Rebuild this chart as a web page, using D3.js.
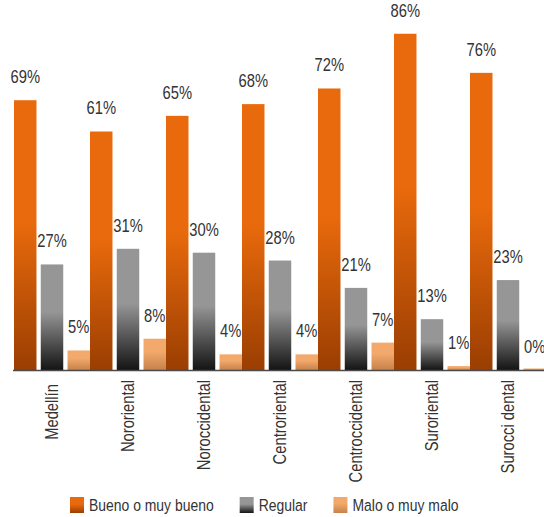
<!DOCTYPE html>
<html>
<head>
<meta charset="utf-8">
<script src="https://cdn.jsdelivr.net/npm/d3@7/dist/d3.min.js"></script>
<style>
  html, body { margin: 0; padding: 0; background: #fff; }
  svg { display: block; }
  text { font-family: "Liberation Sans", Arial, sans-serif; fill: #333; }
</style>
</head>
<body>
<svg id="chart" width="544" height="517"></svg>
<script>
// Zones of the city
const categories = ["Medellín ", "Nororiental", "Noroccidental", "Centroriental", "Centroccidental", "Suroriental", "Surocci dental"];

// Series (percent)
const seriesNames = ["Bueno o muy bueno", "Regular", "Malo o muy malo"];
const bueno   = [69, 61, 65, 68, 72, 86, 76];
const regular = [27, 31, 30, 28, 21, 13, 23];
const malo    = [5, 8, 4, 4, 7, 1, 0];

const seriesValues = [bueno, regular, malo];

// Fill gradients per series: [top colour, bottom colour, where darkening starts]
const seriesFills = [
  { id: "g-bueno",   top: "#E96A0C", bottom: "#9A3E02", start: 0.45 },
  { id: "g-regular", top: "#969696", bottom: "#141414", start: 0.45 },
  { id: "g-malo",    top: "#F3A96B", bottom: "#C5824C", start: 0.40 }
];

// Horizontal squeeze applied to text to get a condensed face
const NARROW = 0.82;

const svg = d3.select("#chart");
const defs = svg.append("defs");
seriesFills.forEach(f => {
  const g = defs.append("linearGradient")
    .attr("id", f.id)
    .attr("x1", 0).attr("y1", 0).attr("x2", 0).attr("y2", 1);
  g.append("stop").attr("offset", 0).attr("stop-color", f.top);
  g.append("stop").attr("offset", f.start).attr("stop-color", f.top);
  g.append("stop").attr("offset", 1).attr("stop-color", f.bottom);
});

const baseline = 370;
const y = d3.scaleLinear().domain([0, 100]).range([baseline, -21]);

const x0 = d3.scaleBand().domain(categories).range([14, 14 + 76 * categories.length]).paddingInner(0).paddingOuter(0);
const x1 = d3.scaleBand().domain(d3.range(seriesNames.length)).range([0, x0.bandwidth()]).paddingInner(0.16).paddingOuter(0);

// Bars and value labels
const groups = svg.append("g").selectAll("g")
  .data(categories)
  .join("g")
  .attr("transform", d => `translate(${x0(d)},0)`);

groups.each(function(cat, ci) {
  const g = d3.select(this);
  seriesValues.forEach((vals, si) => {
    const v = vals[ci];
    const top = y(v);
    const h = Math.max(baseline - top, 1.5);
    g.append("rect")
      .attr("x", x1(si))
      .attr("y", baseline - h)
      .attr("width", x1.bandwidth())
      .attr("height", h)
      .attr("fill", `url(#${seriesFills[si].id})`);
    g.append("text")
      .attr("transform", `translate(${x1(si) + x1.bandwidth() / 2},${top - 17}) scale(${NARROW},1)`)
      .attr("text-anchor", "middle")
      .style("font-size", "18px")
      .text(v + "%");
  });
});

// Baseline axis
svg.append("line")
  .attr("x1", 13).attr("x2", 544)
  .attr("y1", baseline + 0.5).attr("y2", baseline + 0.5)
  .attr("stroke", "#4a4a4a")
  .attr("stroke-width", 1.5);

// Category labels, rotated
svg.append("g").selectAll("text")
  .data(categories)
  .join("text")
  .attr("transform", d => `translate(${x0(d) + x0.bandwidth() / 2 - 0.5},380) rotate(-90) scale(${NARROW},1)`)
  .attr("dy", "0.36em")
  .attr("text-anchor", "end")
  .style("font-size", "18px")
  .style("white-space", "pre")
  .text(d => d);

// Legend
const legend = svg.append("g").attr("transform", "translate(70,497)");
let lx = 0;
seriesNames.forEach((name, i) => {
  const item = legend.append("g").attr("transform", `translate(${lx},0)`);
  item.append("rect")
    .attr("width", 14).attr("height", 16)
    .attr("fill", `url(#${seriesFills[i].id})`);
  const t = item.append("text")
    .attr("transform", `translate(19,14) scale(${NARROW},1)`)
    .style("font-size", "17px")
    .text(name);
  lx += 19 + t.node().getComputedTextLength() * NARROW + 26;
});
</script>
</body>
</html>
